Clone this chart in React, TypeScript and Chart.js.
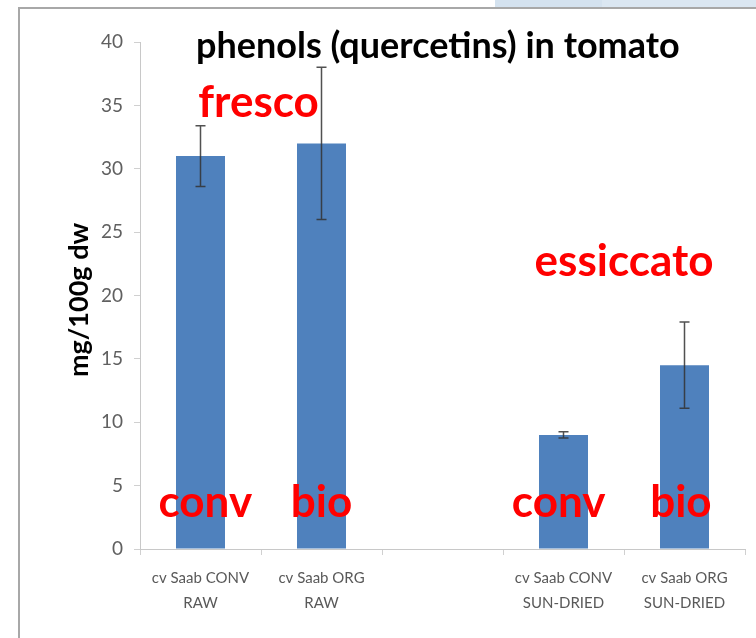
import React, { useEffect, useRef } from "react";
import { Chart, registerables } from "chart.js";

Chart.register(...registerables);

const categories: (string | string[])[] = [
  ["cv Saab CONV", "RAW"],
  ["cv Saab ORG", "RAW"],
  "",
  ["cv Saab CONV", "SUN-DRIED"],
  ["cv Saab ORG", "SUN-DRIED"],
];
const values: (number | null)[] = [31, 32, null, 9, 14.5];
const errors: (number | null)[] = [2.4, 6, null, 0.25, 3.4];
const yTicks = { min: 0, max: 40, step: 5 };

const titleText = "phenols (quercetins) in tomato";
const yTitle = "mg/100g dw";

const noteTexts = ["fresco", "essiccato", "conv", "bio", "conv", "bio"];
const noteIndex = [0.48, 3.5, 0.04, 1.0, 2.96, 3.97];
const noteValue = [34.1, 21.5, 2.5, 2.5, 2.5, 2.5];

const decorPlugin = {
  id: "decor",
  beforeDraw(chart: any) {
    const ctx = chart.ctx;
    ctx.save();
    ctx.fillStyle = "#ffffff";
    ctx.fillRect(0, 0, chart.width, chart.height);
    ctx.fillStyle = "#dbe7f2";
    ctx.fillRect(495, 0, 261, 8);
    ctx.fillStyle = "#d4e2ef";
    ctx.fillRect(495, 0, 107, 8);
    ctx.fillStyle = "#a8a8a8";
    ctx.fillRect(18, 7, 738, 2);
    ctx.fillRect(18, 7, 2, 631);
    ctx.restore();
  },
  afterDraw(chart: any) {
    const ctx = chart.ctx;
    const xs = chart.scales.x;
    const ys = chart.scales.y;
    ctx.save();
    // title
    ctx.fillStyle = "#000000";
    ctx.font = "bold 36px Lato";
    ctx.textAlign = "left";
    ctx.textBaseline = "alphabetic";
    ctx.fillText(titleText, 196, 58);
    // y title
    ctx.save();
    ctx.translate(88, 300);
    ctx.rotate(-Math.PI / 2);
    ctx.textAlign = "center";
    ctx.font = "bold 27px Lato";
    ctx.fillText(yTitle, 0, 0);
    ctx.restore();
    // red notes
    ctx.fillStyle = "#ff0000";
    ctx.font = "bold 44px Lato";
    ctx.textAlign = "center";
    for (let i = 0; i < noteTexts.length; i++) {
      const x = xs.getPixelForValue(noteIndex[i]);
      const y = ys.getPixelForValue(noteValue[i]);
      ctx.fillText(noteTexts[i], x, y);
    }
    ctx.restore();
  },
  afterDatasetsDraw(chart: any) {
    const ctx = chart.ctx;
    const ys = chart.scales.y;
    const meta = chart.getDatasetMeta(0);
    ctx.save();
    ctx.strokeStyle = "rgba(50,50,50,0.85)";
    ctx.lineWidth = 1.5;
    meta.data.forEach((bar: any, i: number) => {
      const v = values[i];
      const e = errors[i];
      if (v == null || e == null) return;
      const x = bar.x;
      const yTop = ys.getPixelForValue(v + e);
      const yBot = ys.getPixelForValue(v - e);
      ctx.beginPath();
      ctx.moveTo(x, yTop);
      ctx.lineTo(x, yBot);
      ctx.moveTo(x - 5, yTop);
      ctx.lineTo(x + 5, yTop);
      ctx.moveTo(x - 5, yBot);
      ctx.lineTo(x + 5, yBot);
      ctx.stroke();
    });
    ctx.restore();
  },
};

export default function App() {
  const ref = useRef<HTMLCanvasElement | null>(null);
  useEffect(() => {
    document.body.style.margin = "0";
    if (!ref.current) return;
    const chart = new Chart(ref.current, {
      type: "bar",
      data: {
        labels: categories as any,
        datasets: [
          {
            data: values as any,
            backgroundColor: "#4f81bd",
            borderWidth: 0,
            categoryPercentage: 1,
            barPercentage: 0.405,
          },
        ],
      },
      options: {
        animation: false,
        responsive: false,
        maintainAspectRatio: false,
        layout: { padding: { top: 42, right: 11, left: 0, bottom: 0 } },
        plugins: {
          legend: { display: false },
          tooltip: { enabled: false },
          title: { display: false },
        },
        scales: {
          x: {
            offset: true,
            grid: {
              display: true,
              drawOnChartArea: false,
              drawTicks: true,
              tickLength: 6,
              color: "#d0d0d0",
              offset: true,
            },
            border: { color: "#c8c8c8", width: 1 },
            ticks: {
              color: "#595959",
              font: { family: "Lato", size: 15, lineHeight: 1.7 },
              padding: 10,
              maxRotation: 0,
              autoSkip: false,
            },
            afterFit(scale: any) {
              scale.height = 89;
            },
          },
          y: {
            min: yTicks.min,
            max: yTicks.max,
            grid: {
              display: true,
              drawOnChartArea: false,
              drawTicks: true,
              tickLength: 6,
              color: "#d0d0d0",
            },
            border: { color: "#c8c8c8", width: 1 },
            ticks: {
              stepSize: yTicks.step,
              color: "#606060",
              font: { family: "Lato", size: 19 },
              padding: 11,
            },
            afterFit(scale: any) {
              scale.width = 140;
            },
          },
        },
      },
      plugins: [decorPlugin],
    });
    return () => chart.destroy();
  }, []);
  return <canvas ref={ref} width={756} height={638} style={{ display: "block" }} />;
}
